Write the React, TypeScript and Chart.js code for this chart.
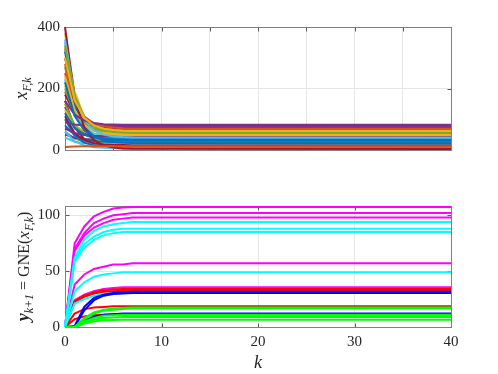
import React, { useEffect, useRef } from "react";
import { Chart, registerables } from "chart.js";
Chart.register(...registerables);

const FONT = "'Liberation Serif', 'DejaVu Serif', serif";
const TEXT = "#262626";

// ---------- Top panel: x_{F,k} ----------
const topK = [0, 1, 2, 3, 4, 5, 6, 7, 40];
const topXTicks = [0, 5, 10, 15, 20, 25, 30, 35, 40];
const topYTicks = [0, 200, 400];
const topColors = ["#0072BD", "#D95319", "#EDB120", "#7E2F8E", "#77AC30", "#4DBEEE", "#A2142F"];
const topSeries: number[][] = [
  [220, 110, 63, 44, 36, 32, 31, 30, 30],
  [10, 11, 12, 12, 12, 12, 12, 12, 12],
  [300, 162, 104, 80, 69, 65, 63, 62, 62],
  [160, 115, 96, 88, 84, 83, 82, 82, 82],
  [340, 175, 105, 76, 64, 59, 57, 56, 55],
  [360, 174, 96, 64, 50, 44, 42, 41, 40],
  [400, 170, 73, 32, 15, 8, 5, 4, 3],
  [120, 71, 50, 41, 38, 36, 35, 35, 35],
  [280, 158, 107, 86, 77, 73, 71, 70, 70],
  [240, 129, 82, 62, 54, 50, 49, 48, 48],
  [90, 83, 80, 79, 78, 78, 78, 78, 78],
  [200, 118, 83, 69, 62, 60, 59, 58, 58],
  [60, 28, 15, 9, 7, 6, 5, 5, 5],
  [180, 119, 94, 83, 78, 76, 76, 75, 75],
  [320, 147, 74, 44, 31, 26, 24, 23, 22],
  [250, 143, 98, 79, 71, 67, 66, 65, 65],
  [380, 189, 108, 74, 60, 54, 52, 51, 50],
  [70, 55, 49, 46, 45, 44, 44, 44, 44],
  [150, 79, 50, 37, 32, 30, 29, 28, 28],
  [230, 119, 72, 52, 44, 40, 39, 38, 38],
  [110, 55, 32, 22, 18, 16, 16, 15, 15],
  [100, 47, 24, 15, 11, 9, 9, 8, 8],
  [330, 173, 108, 80, 68, 64, 61, 61, 60],
  [130, 81, 60, 51, 48, 46, 45, 45, 45],
  [50, 40, 36, 34, 34, 33, 33, 33, 33],
  [270, 144, 90, 68, 59, 55, 53, 52, 52],
  [40, 27, 22, 20, 19, 18, 18, 18, 18],
  [300, 165, 109, 85, 75, 71, 69, 69, 68],
  [80, 48, 35, 29, 27, 26, 25, 25, 25],
  [190, 122, 93, 81, 76, 74, 73, 72, 72],
  [210, 113, 72, 54, 47, 44, 43, 42, 42],
  [140, 80, 54, 44, 39, 37, 37, 36, 36],
  [60, 37, 27, 23, 21, 21, 20, 20, 20],
  [350, 162, 83, 50, 36, 30, 28, 27, 26],
  [160, 73, 36, 21, 15, 12, 11, 10, 10],
];

// ---------- Bottom panel: y_{k+1} = GNE(x_{F,k}) ----------
const botK = [0, 1, 2, 3, 4, 5, 6, 7, 8, 40];
const botXTicks = [0, 10, 20, 30, 40];
const botYTicks = [0, 50, 100];
const botColors = [
  "#00FF00", "#00FF00", "#00FF00", "#00FF00", "#00FF00",
  "#0000FF", "#0000FF", "#0000FF",
  "#00FFFF", "#00FFFF", "#00FFFF", "#00FFFF", "#00FFFF",
  "#FF0000", "#FF0000", "#FF0000", "#FF0000",
  "#FF00FF", "#FF00FF", "#FF00FF", "#FF00FF", "#FF00FF",
];
const botSeries: number[][] = [
  [0, 0, 8, 13, 15.5, 16.5, 17, 17.5, 17.5, 17.5],
  [0, 0, 7, 12, 14.5, 15.5, 16, 16.5, 16.5, 16.5],
  [0, 0, 5, 8, 10, 10.5, 11, 11, 11, 11],
  [0, 0, 4, 6.5, 8, 8.5, 9, 9, 9, 9],
  [0, 0, 3, 5, 6, 6.3, 6.5, 6.5, 6.5, 6.5],
  [0, 1, 18, 26, 29, 30.5, 31, 31.5, 31.5, 31.5],
  [0, 0, 15, 24, 28, 29.5, 30, 30.5, 30.5, 30.5],
  [0, 0, 6, 9, 11, 11.5, 12, 12, 12, 12],
  [0, 62, 78, 86, 90, 92, 93, 94, 94, 94],
  [0, 60, 74, 81, 85, 87, 88, 88, 88, 88],
  [0, 58, 71, 78, 82, 84, 85, 85, 85, 85],
  [0, 32, 40, 45, 47, 48, 49, 49, 49, 49],
  [0, 21, 25, 28, 29.5, 30, 30.5, 30.5, 30.5, 30.5],
  [0, 23, 28, 31, 33, 33.5, 34, 34, 34, 34],
  [0, 22, 27, 30, 31.5, 32, 32.5, 32.5, 32.5, 32.5],
  [0, 12, 16, 17.5, 18, 18.5, 18.5, 18.5, 18.5, 18.5],
  [0, 7, 9.5, 10.5, 11, 11.5, 11.5, 11.5, 11.5, 11.5],
  [0, 75, 90, 99, 103, 106, 107, 107.5, 107.5, 107.5],
  [0, 70, 84, 93, 97, 100, 101, 102, 102, 102],
  [0, 68, 82, 89, 93, 96, 97, 98, 98, 98],
  [0, 38, 47, 52, 54, 56, 56, 57, 57, 57],
  [0, 24, 29, 32, 34, 35, 35.5, 35.5, 35.5, 35.5],
];

type Piece = { t: string; font: string; dy?: number };

function drawPieces(ctx: CanvasRenderingContext2D, pieces: Piece[], cx: number, cy: number, rotate: boolean) {
  ctx.save();
  ctx.translate(cx, cy);
  if (rotate) ctx.rotate(-Math.PI / 2);
  let total = 0;
  for (const p of pieces) {
    ctx.font = p.font;
    total += ctx.measureText(p.t).width;
  }
  let x = -total / 2;
  ctx.fillStyle = TEXT;
  ctx.textAlign = "left";
  ctx.textBaseline = "alphabetic";
  for (const p of pieces) {
    ctx.font = p.font;
    ctx.fillText(p.t, x, p.dy || 0);
    x += ctx.measureText(p.t).width;
  }
  ctx.restore();
}

function framePlugin(xt: number[], yt: number[]) {
  return {
    id: "frame",
    beforeDatasetsDraw(chart: any) {
      const { ctx, chartArea: a, scales } = chart;
      ctx.save();
      const L = Math.round(a.left) + 0.5;
      const R = Math.round(a.right) + 0.5;
      const T = Math.round(a.top) + 0.5;
      const B = Math.round(a.bottom) + 0.5;
      ctx.strokeStyle = "#5a5a5a";
      ctx.lineWidth = 1;
      ctx.beginPath();
      for (const v of xt) {
        const px = Math.round(scales.x.getPixelForValue(v)) + 0.5;
        ctx.moveTo(px, B);
        ctx.lineTo(px, B - 4);
        ctx.moveTo(px, T);
        ctx.lineTo(px, T + 4);
      }
      for (const v of yt) {
        const py = Math.round(scales.y.getPixelForValue(v)) + 0.5;
        ctx.moveTo(L, py);
        ctx.lineTo(L + 4, py);
        ctx.moveTo(R, py);
        ctx.lineTo(R - 4, py);
      }
      ctx.stroke();
      ctx.strokeStyle = "#808080";
      ctx.strokeRect(L, T, R - L, B - T);
      ctx.restore();
    },
  };
}

function titlePlugin(draw: (ctx: CanvasRenderingContext2D, a: any) => void) {
  return {
    id: "titles",
    afterDraw(chart: any) {
      draw(chart.ctx, chart.chartArea);
    },
  };
}

function baseOptions(opts: {
  ymax: number;
  xt: number[];
  yt: number[];
  showX: boolean;
  padTop: number;
  xHeight: number;
}) {
  return {
    responsive: false,
    animation: false as const,
    devicePixelRatio: 1,
    layout: { padding: { left: 0, right: 47, top: opts.padTop, bottom: 0 } },
    plugins: { legend: { display: false }, tooltip: { enabled: false } },
    elements: { point: { radius: 0 }, line: { tension: 0, borderWidth: 2 } },
    scales: {
      x: {
        type: "linear" as const,
        min: 0,
        max: 40,
        afterBuildTicks: (s: any) => {
          s.ticks = opts.xt.map((v) => ({ value: v }));
        },
        afterFit: (s: any) => {
          s.height = opts.xHeight;
        },
        ticks: {
          display: opts.showX,
          padding: 6,
          color: TEXT,
          font: { family: FONT, size: 15 },
          maxRotation: 0,
        },
        grid: { color: "#e6e6e6", drawTicks: false, lineWidth: 1 },
        border: { display: false },
      },
      y: {
        type: "linear" as const,
        min: 0,
        max: opts.ymax,
        afterBuildTicks: (s: any) => {
          s.ticks = opts.yt.map((v) => ({ value: v }));
        },
        afterFit: (s: any) => {
          s.width = 65;
        },
        ticks: { padding: 5, color: TEXT, font: { family: FONT, size: 15 } },
        grid: { color: "#e6e6e6", drawTicks: false, lineWidth: 1 },
        border: { display: false },
      },
    },
  };
}

export default function App() {
  const topRef = useRef<HTMLCanvasElement>(null);
  const botRef = useRef<HTMLCanvasElement>(null);

  useEffect(() => {
    const topData = topSeries.map((s, i) => ({
      data: s.map((v, j) => ({ x: topK[j], y: v })),
      borderColor: topColors[i % topColors.length],
      borderWidth: 2,
      pointRadius: 0,
      fill: false,
      clip: 1,
    }));
    const top = new Chart(topRef.current!, {
      type: "line",
      data: { datasets: topData as any },
      options: baseOptions({ ymax: 400, xt: topXTicks, yt: topYTicks, showX: false, padTop: 27, xHeight: 37 }) as any,
      plugins: [
        framePlugin(topXTicks, topYTicks),
        titlePlugin((ctx, a) => {
          const cy = (a.top + a.bottom) / 2;
          drawPieces(
            ctx,
            [
              { t: "x", font: `italic 18px ${FONT}` },
              { t: "F,k", font: `italic 12px ${FONT}`, dy: 4 },
            ],
            27,
            cy,
            true
          );
        }),
      ],
    });

    const botData = botSeries.map((s, i) => ({
      data: s.map((v, j) => ({ x: botK[j], y: v })),
      borderColor: botColors[i],
      borderWidth: 2,
      pointRadius: 0,
      fill: false,
      clip: 2,
    }));
    const bot = new Chart(botRef.current!, {
      type: "line",
      data: { datasets: botData as any },
      options: baseOptions({ ymax: 108.3, xt: botXTicks, yt: botYTicks, showX: true, padTop: 19, xHeight: 47 }) as any,
      plugins: [
        framePlugin(botXTicks, botYTicks),
        titlePlugin((ctx, a) => {
          const cy = (a.top + a.bottom) / 2;
          drawPieces(
            ctx,
            [
              { t: "y", font: `bold italic 18px ${FONT}` },
              { t: "k+1", font: `italic 12px ${FONT}`, dy: 4 },
              { t: " = GNE(", font: `16px ${FONT}` },
              { t: "x", font: `italic 17px ${FONT}` },
              { t: "F,k", font: `italic 12px ${FONT}`, dy: 4 },
              { t: ")", font: `16px ${FONT}` },
            ],
            29,
            cy,
            true
          );
          drawPieces(ctx, [{ t: "k", font: `italic 18px ${FONT}` }], (a.left + a.right) / 2, 181, false);
        }),
      ],
    });

    return () => {
      top.destroy();
      bot.destroy();
    };
  }, []);

  return (
    <div style={{ position: "fixed", left: 0, top: 0, width: 498, height: 374, background: "#fff" }}>
      <canvas ref={topRef} width={498} height={187} style={{ position: "absolute", left: 0, top: 0, width: 498, height: 187 }} />
      <canvas ref={botRef} width={498} height={187} style={{ position: "absolute", left: 0, top: 187, width: 498, height: 187 }} />
    </div>
  );
}
